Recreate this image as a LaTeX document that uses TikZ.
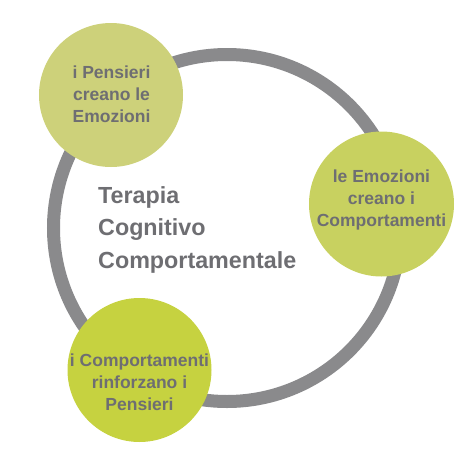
\documentclass[tikz,border=0pt]{standalone}
\usepackage{fontspec}
\setmainfont{Liberation Sans}
\definecolor{ringgray}{HTML}{8A8A8C}
\definecolor{txtgray}{HTML}{6E6E72}
\definecolor{greenA}{HTML}{CDD17A}
\definecolor{greenB}{HTML}{C8D160}
\definecolor{greenC}{HTML}{C6D240}
\begin{document}
\begin{tikzpicture}[x=1pt,y=-1pt,
  bubble/.style={circle,inner sep=0pt,minimum size=144pt},
  bubtext/.style={inner sep=0pt,align=center,text=txtgray,anchor=base,
    font=\fontsize{17.5}{22}\selectfont\bfseries},
  maintext/.style={inner sep=0pt,align=left,text=txtgray,anchor=base west,
    font=\fontsize{23.3}{32.5}\selectfont\bfseries}]
\useasboundingbox (0,0) rectangle (456,456);
\node[circle,draw=ringgray,line width=13pt,minimum size=347pt,inner sep=0pt] (ring) at (227,228) {};
\node[bubble,fill=greenA] (c1) at (111,95) {};
\node[bubble,fill=greenB,minimum size=145pt] (c2) at (381.5,204) {};
\node[bubble,fill=greenC] (c3) at (139.5,370) {};
\node[bubtext] (t1) at (111.5,122.7) {i Pensieri\\creano le\\Emozioni};
\node[bubtext] (t2) at (381.5,226) {le Emozioni\\creano i\\Comportamenti};
\node[bubtext] (t3) at (139.5,410) {i Comportamenti\\rinforzano i\\Pensieri};
\node[maintext] (tm) at (98,268) {Terapia\\Cognitivo\\Comportamentale};
\end{tikzpicture}
\end{document}
